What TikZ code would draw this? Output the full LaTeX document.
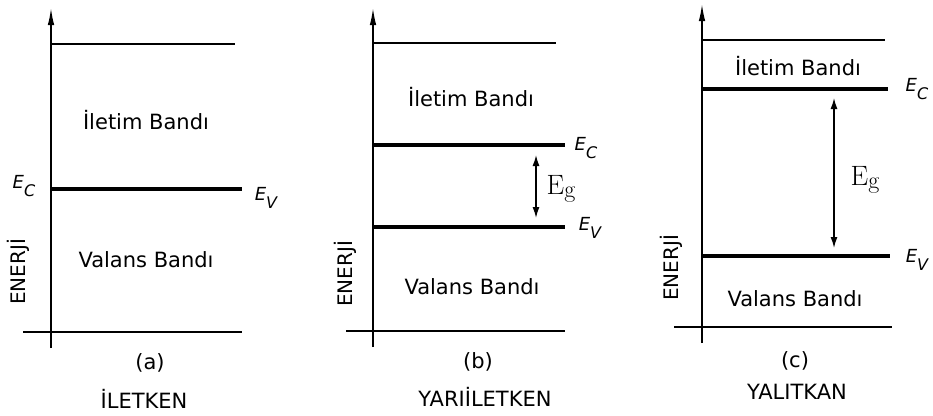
\documentclass[tikz,border=0pt]{standalone}
\usepackage{fontspec}
\setmainfont{DejaVu Sans}
\newfontfamily\lmfont{Latin Modern Roman}
\usetikzlibrary{arrows.meta}
\newcommand\elab[2]{{\fontsize{18}{18}\selectfont\itshape E\raisebox{-8pt}{\fontsize{16}{16}\selectfont #2}}}
\newcommand\eglab{{\lmfont\fontsize{28}{28}\selectfont E\raisebox{-3pt}{\fontsize{24}{24}\selectfont g}}}
\begin{document}
\begin{tikzpicture}[x=1pt,y=-1pt,
  thinline/.style={line width=1.5pt},
  bandline/.style={line width=3.3pt},
  axisline/.style={line width=1.5pt,-{Latex[length=17pt,width=6.5pt]}},
  gaparrow/.style={line width=1.4pt,{Latex[length=11pt,width=7pt]}-{Latex[length=11pt,width=7pt]}},
  txt/.style={inner sep=0pt,font=\fontsize{21}{21}\selectfont},
  vtxt/.style={inner sep=0pt,rotate=90,font=\fontsize{20}{20}\selectfont},
  elbl/.style={inner sep=0pt}]
\path[use as bounding box] (0,0) rectangle (933,415);
% ---------------- panel (a)
\coordinate (aB) at (51,348); \coordinate (aT) at (51,8);
\coordinate (aTopL) at (51,44); \coordinate (aTopR) at (235,44);
\coordinate (aBandL) at (51,189); \coordinate (aBandR) at (242,189);
\coordinate (aBotL) at (23,332); \coordinate (aBotR) at (242,332);
\draw[axisline] (aB) -- (aT);
\draw[thinline] (aTopL) -- (aTopR);
\draw[bandline] (aBandL) -- (aBandR);
\draw[thinline] (aBotL) -- (aBotR);
\node[elbl] (aEc) at (24,186) {\elab{E}{C}};
\node[elbl] (aEv) at (266,198) {\elab{E}{V}};
\node[txt] (aIl) at (146,120) {İletim Bandı};
\node[txt] (aVa) at (146,260) {Valans Bandı};
\node[vtxt] (aEn) at (18,272) {ENERJİ};
\node[txt] (aLab) at (150,363) {(a)};
\node[txt] (aName) at (144,399) {İLETKEN};
% ---------------- panel (b)
\coordinate (bB) at (373,347); \coordinate (bT) at (373,8);
\coordinate (bTopL) at (373,43); \coordinate (bTopR) at (556,43);
\coordinate (bEcL) at (373,145); \coordinate (bEcR) at (565,145);
\coordinate (bEvL) at (373,227); \coordinate (bEvR) at (565,227);
\coordinate (bBotL) at (346,331); \coordinate (bBotR) at (565,331);
\coordinate (bGT) at (536,155); \coordinate (bGB) at (536,218);
\draw[axisline] (bB) -- (bT);
\draw[thinline] (bTopL) -- (bTopR);
\draw[bandline] (bEcL) -- (bEcR);
\draw[bandline] (bEvL) -- (bEvR);
\draw[thinline] (bBotL) -- (bBotR);
\draw[gaparrow] (bGT) -- (bGB);
\node[elbl] (bEc) at (586,148) {\elab{E}{C}};
\node[elbl] (bEv) at (590,228) {\elab{E}{V}};
\node[elbl] (bEg) at (561,189) {\eglab};
\node[txt] (bIl) at (471,97) {İletim Bandı};
\node[txt] (bVa) at (472,287) {Valans Bandı};
\node[vtxt] (bEn) at (345,274) {ENERJİ};
\node[txt] (bLab) at (478,362) {(b)};
\node[txt] (bName) at (485,397) {YARIİLETKEN};
% ---------------- panel (c)
\coordinate (cB) at (702,343); \coordinate (cT) at (702,4);
\coordinate (cTopL) at (702,40); \coordinate (cTopR) at (885,40);
\coordinate (cEcL) at (702,89); \coordinate (cEcR) at (888,89);
\coordinate (cEvL) at (702,256); \coordinate (cEvR) at (890,256);
\coordinate (cBotL) at (674,327); \coordinate (cBotR) at (892,327);
\coordinate (cGT) at (834,98); \coordinate (cGB) at (834,248);
\draw[axisline] (cB) -- (cT);
\draw[thinline] (cTopL) -- (cTopR);
\draw[bandline] (cEcL) -- (cEcR);
\draw[bandline] (cEvL) -- (cEvR);
\draw[thinline] (cBotL) -- (cBotR);
\draw[gaparrow] (cGT) -- (cGB);
\node[elbl] (cEc) at (917,89) {\elab{E}{C}};
\node[elbl] (cEv) at (917,260) {\elab{E}{V}};
\node[elbl] (cEg) at (865,180) {\eglab};
\node[txt] (cIl) at (798,66) {İletim Bandı};
\node[txt] (cVa) at (795,299) {Valans Bandı};
\node[vtxt] (cEn) at (671,268) {ENERJİ};
\node[txt] (cLab) at (795,361) {(c)};
\node[txt] (cName) at (797,392) {YALITKAN};
\end{tikzpicture}
\end{document}
